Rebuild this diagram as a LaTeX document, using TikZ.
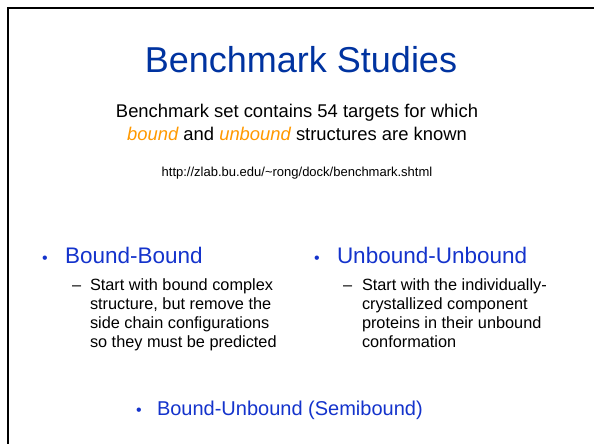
\documentclass[tikz,border=0pt]{standalone}
\usepackage{fontspec}
\setmainfont{Liberation Sans}
\definecolor{titleblue}{HTML}{0033A0}
\definecolor{bulletblue}{HTML}{1433CC}
\definecolor{accorange}{HTML}{FF9900}
\begin{document}
\begin{tikzpicture}[x=1pt,y=-1pt,
  txt/.style={inner sep=0pt, outer sep=0pt},
  head/.style={txt, anchor=base west, text=bulletblue, font=\fontsize{22.5}{26}\selectfont},
  sub/.style={txt, anchor=base west, align=left, font=\fontsize{16.3}{19}\selectfont},
  dot/.style={txt, anchor=base west, text=bulletblue, font=\fontsize{16}{18}\selectfont},
  dashmark/.style={txt, anchor=base west, font=\fontsize{16.3}{19}\selectfont}]
\useasboundingbox (0,0) rectangle (594,444);
\fill[white] (0,0) rectangle (594,444);
\coordinate (tl) at (8,8);
\coordinate (tr) at (594,8);
\coordinate (bl) at (8,444);
\draw[line width=2.2pt] (tr) -- (tl) -- (bl);

\node[txt, anchor=base, text=titleblue, font=\fontsize{36}{42}\selectfont] (title) at (301,73) {Benchmark Studies};
\node[txt, anchor=base, font=\fontsize{18.4}{22}\selectfont] (l1) at (297,117) {Benchmark set contains 54 targets for which};
\node[txt, anchor=base, font=\fontsize{18.4}{22}\selectfont] (l2) at (297,140) {\textcolor{accorange}{\itshape bound} and \textcolor{accorange}{\itshape unbound} structures are known};
\node[txt, anchor=base, font=\fontsize{13}{15}\selectfont] (url) at (297,176) {http://zlab.bu.edu/\textasciitilde rong/dock/benchmark.shtml};

\node[dot] (b1) at (42,263) {\textbullet};
\node[head] (h1) at (65,263) {Bound-Bound};
\node[dashmark] (d1) at (72,290) {–};
\node[sub] (s1) at (90,347) {Start with bound complex\\structure, but remove the\\side chain configurations\\so they must be predicted};

\node[dot] (b2) at (314,263) {\textbullet};
\node[head] (h2) at (337,263) {Unbound-Unbound};
\node[dashmark] (d2) at (343,290) {–};
\node[sub] (s2) at (362,347) {Start with the individually-\\crystallized component\\proteins in their unbound\\conformation};

\node[dot] (b3) at (136,415) {\textbullet};
\node[head, font=\fontsize{20}{24}\selectfont] (h3) at (157,415) {Bound-Unbound (Semibound)};
\end{tikzpicture}
\end{document}
